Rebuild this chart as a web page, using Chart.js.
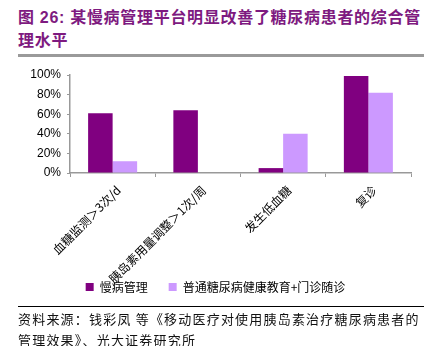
<!DOCTYPE html>
<html>
<head>
<meta charset="utf-8">
<script src="https://cdn.jsdelivr.net/npm/chart.js@4"></script>
<style>
  html, body { margin: 0; padding: 0; background: #fff; }
  #wrap { position: relative; width: 439px; height: 346px; overflow: hidden; }
  #chart { position: absolute; left: 0; top: 0; }
  .title {
    position: absolute; left: 18px; font: bold 16px "Liberation Sans", "Noto Sans CJK SC", sans-serif;
    color: #7e1a80; letter-spacing: 0.7px; white-space: nowrap; line-height: 20px;
  }
  .rule1 { position: absolute; left: 18px; top: 54px; width: 406px; height: 3px; background: #9a9a9a; }
  .rule2 { position: absolute; left: 18px; top: 306px; width: 406px; height: 1px; background: #000; }
  .src {
    position: absolute; left: 18px; font: 13px "Noto Sans CJK SC", sans-serif;
    color: #111; letter-spacing: 1.2px; white-space: nowrap; line-height: 16px;
  }
</style>
</head>
<body>
<div id="wrap">
  <div class="title" style="top:8px">图 26: 某慢病管理平台明显改善了糖尿病患者的综合管</div>
  <div class="title" style="top:31px">理水平</div>
  <div class="rule1"></div>
  <canvas id="chart" width="439" height="346"></canvas>
  <div class="rule2"></div>
  <div class="src" style="top:311px">资料来源：钱彩凤 等《移动医疗对使用胰岛素治疗糖尿病患者的</div>
  <div class="src" style="top:332px">管理效果》、光大证券研究所</div>
</div>
<script>
const categories = ["血糖监测＞3次/d", "胰岛素用量调整＞1次/周", "发生低血糖", "复诊"];
const seriesNames = ["慢病管理", "普通糖尿病健康教育+门诊随诊"];
const chronicMgmt = [61, 64, 5, 99];
const usualCare = [12, null, 40, 82];
const yTicks = ["0%", "20%", "40%", "60%", "80%", "100%"];

// long rotated labels run into the legend row, so let them draw past the axis box
const unclipLabels = {
    id: 'unclipLabels',
    afterLayout(chart) {
        chart.scales.x.bottom = chart.height;
    }
};

const ctx = document.getElementById('chart').getContext('2d');
new Chart(ctx, {
    type: 'bar',
    data: {
        labels: categories,
        datasets: [
            { label: seriesNames[0], data: chronicMgmt, backgroundColor: '#800080' },
            { label: seriesNames[1], data: usualCare, backgroundColor: '#cc99ff' }
        ]
    },
    options: {
        responsive: false,
        animation: false,
        layout: { padding: { top: 75, left: 20, right: 28, bottom: 43 } },
        datasets: { bar: { categoryPercentage: 0.575, barPercentage: 1.0 } },
        plugins: {
            legend: {
                position: 'bottom',
                labels: {
                    boxWidth: 8, boxHeight: 8, padding: 21,
                    color: '#000',
                    font: { size: 12, family: '"Noto Sans CJK SC", sans-serif' }
                }
            },
            tooltip: { enabled: false }
        },
        scales: {
            x: {
                grid: { drawOnChartArea: false, tickLength: 4, color: '#999' },
                border: { color: '#999', width: 1.5 },
                ticks: {
                    minRotation: 45, maxRotation: 45, padding: 6, labelOffset: 6,
                    color: '#000',
                    font: { size: 12, family: '"Noto Sans CJK SC", sans-serif' }
                },
                afterFit: s => { s.height = 87; }
            },
            y: {
                min: 0, max: 100,
                grid: { drawOnChartArea: false, tickLength: 3, color: '#999' },
                border: { color: '#999', width: 1.5 },
                ticks: {
                    stepSize: 20, padding: 6, color: '#000',
                    font: { size: 12, family: '"Liberation Sans", sans-serif' },
                    callback: (v) => yTicks[v / 20]
                },
                afterFit: s => { s.width = 50; }
            }
        }
    },
    plugins: [unclipLabels]
});
</script>
</body>
</html>
